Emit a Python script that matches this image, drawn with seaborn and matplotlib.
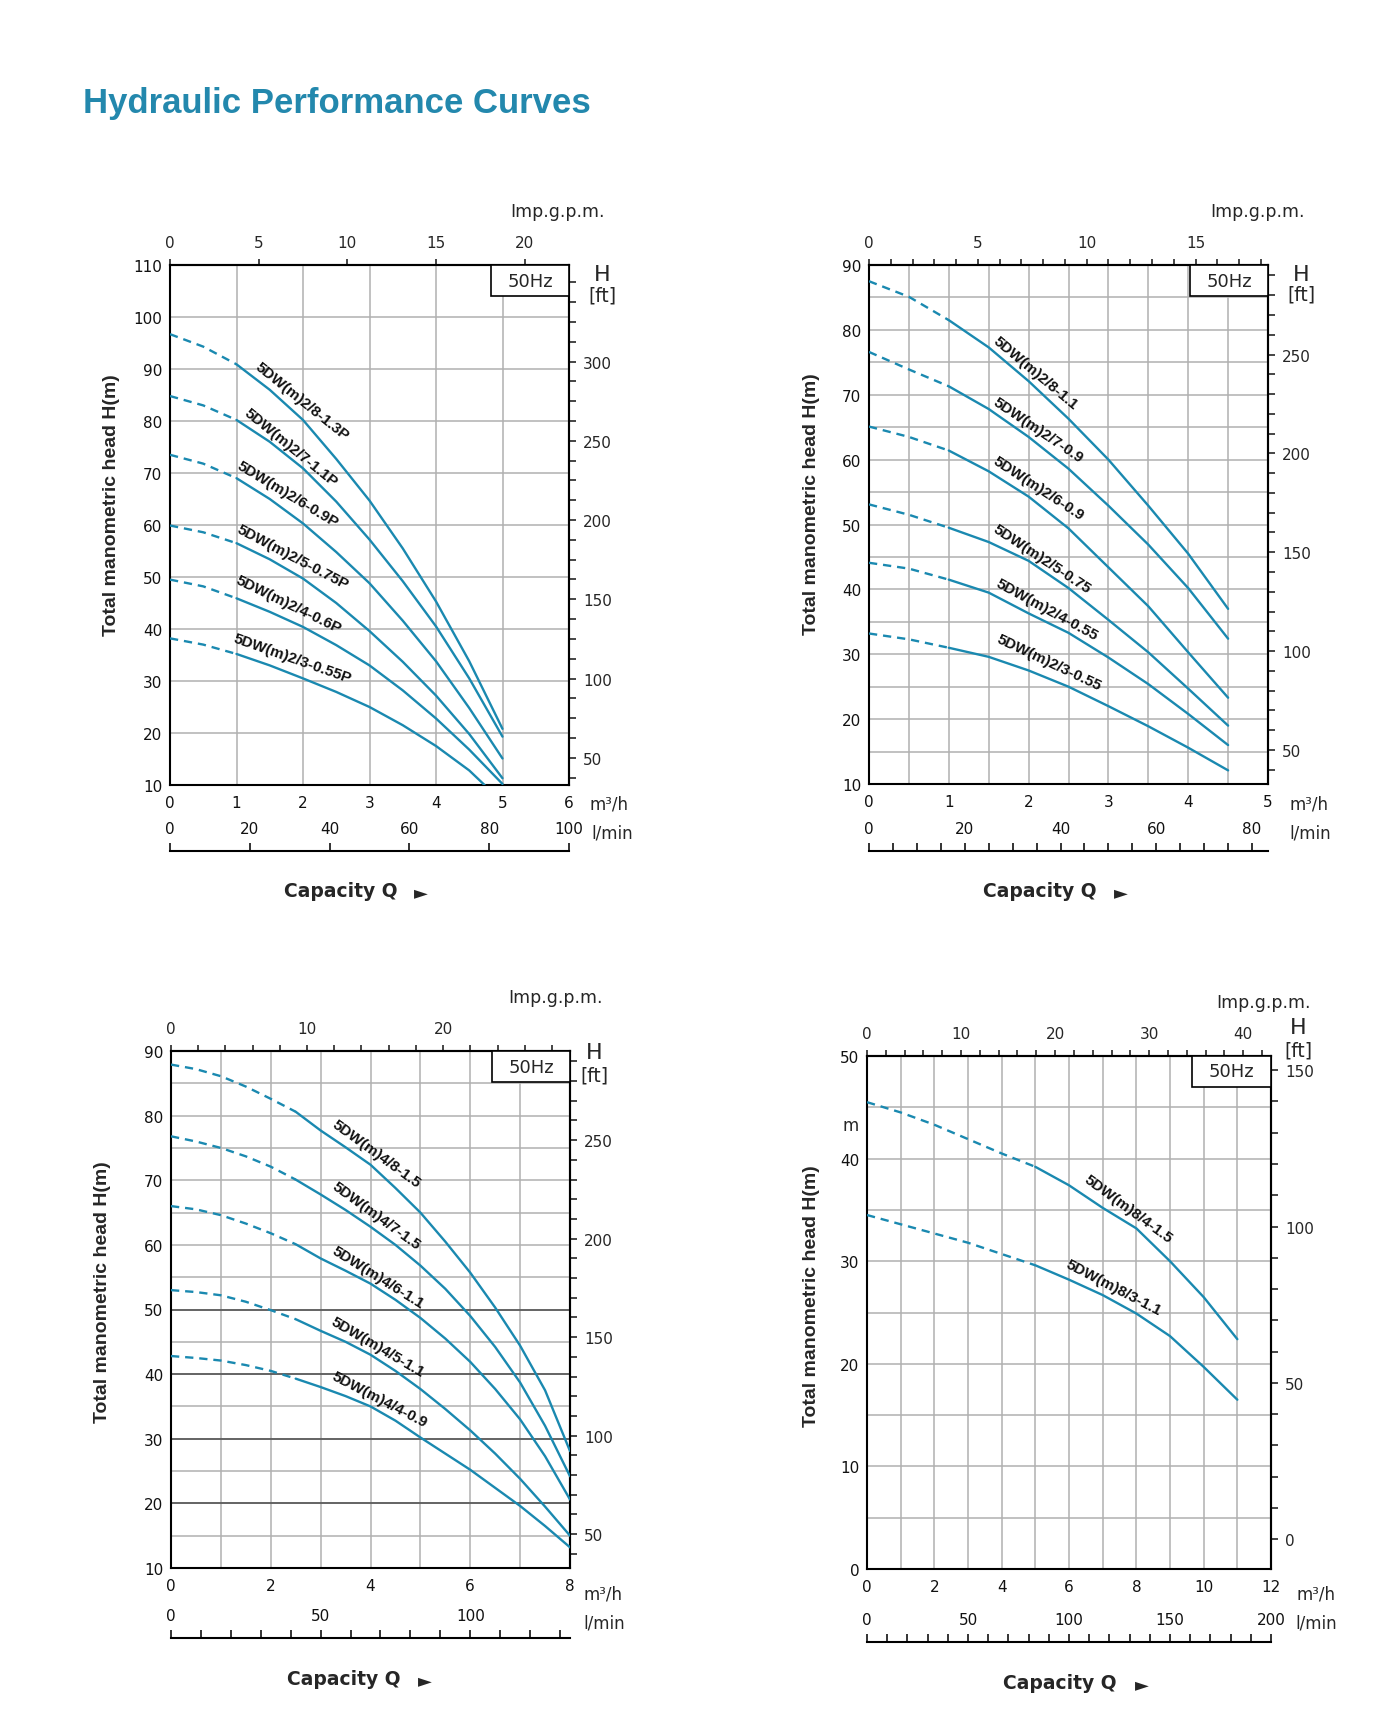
import numpy as np
import pandas as pd
import matplotlib.pyplot as plt
import seaborn as sns
from matplotlib.ticker import MultipleLocator
from matplotlib.patches import Rectangle

sns.set_theme(style="white")
plt.rcParams['font.family'] = ['DejaVu Sans']

W, H = 1400, 1731
CURVE = '#1a89b0'
GRID = '#b0b0b0'
TITLE_COLOR = '#2388ad'
LABEL_FONT = ['Liberation Sans', 'DejaVu Sans']

# ---- chart 1 : 5DW(m)2 ... P  (Q in m3/h, H in m)
Q1 = [0, 0.5, 1, 1.5, 2, 2.5, 3, 3.5, 4, 4.5, 5]
Q1_short = [0, 0.5, 1, 1.5, 2, 2.5, 3, 3.5, 4, 4.5, 4.73]
H1_8 = [96.7, 94.3, 90.9, 86.0, 80.2, 72.7, 64.7, 55.5, 45.3, 33.8, 20.8]
H1_7 = [84.8, 83.0, 80.2, 76.0, 70.9, 64.5, 57.2, 49.2, 40.5, 30.5, 19.3]
H1_6 = [73.5, 71.8, 69.0, 65.0, 60.3, 54.8, 48.8, 41.6, 33.8, 24.8, 15.1]
H1_5 = [59.9, 58.6, 56.5, 53.4, 49.7, 45.0, 39.6, 33.7, 27.2, 19.8, 11.3]
H1_4 = [49.5, 48.2, 45.9, 43.3, 40.4, 36.9, 33.0, 28.2, 22.8, 16.8, 10.2]
H1_3 = [38.2, 37.0, 35.2, 33.0, 30.5, 27.9, 25.0, 21.5, 17.5, 12.8, 10.0]
NAMES1 = ['5DW(m)2/8-1.3P', '5DW(m)2/7-1.1P', '5DW(m)2/6-0.9P',
          '5DW(m)2/5-0.75P', '5DW(m)2/4-0.6P', '5DW(m)2/3-0.55P']

# ---- chart 2 : 5DW(m)2 ...
Q2 = [0, 0.5, 1, 1.5, 2, 2.5, 3, 3.5, 4, 4.5]
H2_8 = [87.5, 85.1, 81.5, 77.3, 72.1, 66.3, 60.0, 52.9, 45.5, 37.0]
H2_7 = [76.6, 73.9, 71.3, 67.8, 63.5, 58.6, 52.9, 46.9, 40.2, 32.4]
H2_6 = [65.1, 63.5, 61.4, 58.2, 54.3, 49.4, 43.4, 37.4, 30.3, 23.3]
H2_5 = [53.1, 51.5, 49.5, 47.3, 44.4, 40.2, 35.3, 30.3, 24.7, 19.0]
H2_4 = [44.1, 43.2, 41.5, 39.5, 36.3, 33.3, 29.5, 25.4, 20.8, 16.0]
H2_3 = [33.2, 32.3, 31.0, 29.6, 27.5, 25.0, 22.0, 18.9, 15.6, 12.1]
NAMES2 = ['5DW(m)2/8-1.1', '5DW(m)2/7-0.9', '5DW(m)2/6-0.9',
          '5DW(m)2/5-0.75', '5DW(m)2/4-0.55', '5DW(m)2/3-0.55']

# ---- chart 3 : 5DW(m)4 ...
Q3 = [0, 0.5, 1, 1.5, 2, 2.5, 3, 3.5, 4, 4.5, 5, 5.5, 6, 6.5, 7, 7.5, 8]
H3_8 = [87.9, 87.2, 86.1, 84.5, 82.6, 80.6, 77.7, 75.1, 72.4, 68.8, 65.0, 60.5, 55.7, 50.3, 44.4, 37.5, 28.1]
H3_7 = [76.8, 76.0, 75.0, 73.7, 72.1, 70.1, 67.8, 65.4, 62.8, 60.0, 56.8, 53.2, 49.0, 44.2, 38.7, 32.0, 24.2]
H3_6 = [66.0, 65.5, 64.6, 63.3, 61.8, 60.1, 57.9, 56.0, 54.0, 51.5, 48.7, 45.5, 41.9, 37.7, 33.0, 27.3, 20.6]
H3_5 = [53.0, 52.7, 52.2, 51.2, 49.9, 48.5, 46.7, 45.0, 43.0, 40.5, 37.7, 34.6, 31.3, 27.7, 23.8, 19.5, 15.0]
H3_4 = [42.8, 42.5, 42.1, 41.4, 40.5, 39.3, 38.0, 36.6, 35.0, 32.8, 30.2, 27.7, 25.2, 22.4, 19.6, 16.5, 13.2]
NAMES3 = ['5DW(m)4/8-1.5', '5DW(m)4/7-1.5', '5DW(m)4/6-1.1',
          '5DW(m)4/5-1.1', '5DW(m)4/4-0.9']

# ---- chart 4 : 5DW(m)8 ...
Q4 = [0, 1, 2, 3, 4, 5, 6, 7, 8, 9, 10, 11]
H4_4 = [45.5, 44.5, 43.3, 41.9, 40.5, 39.2, 37.4, 35.2, 33.2, 30.0, 26.5, 22.4]
H4_3 = [34.5, 33.6, 32.7, 31.8, 30.7, 29.6, 28.2, 26.7, 24.9, 22.7, 19.7, 16.5]
NAMES4 = ['5DW(m)8/4-1.5', '5DW(m)8/3-1.1']

fig = plt.figure(figsize=(14, 17.31), dpi=100)
fig.patch.set_facecolor('white')


def px_rect(x0, y0, x1, y1):
    return [x0 / W, 1 - y1 / H, (x1 - x0) / W, (y1 - y0) / H]


def panel(box, lmin_y, qmax, hlim, curves, label_pos, split,
          xgrid, ygrid, xstep, ystep, gpm_k, gpm_ticks, gpm_minor,
          ft_fn, ft_ticks, ft_minor, lmin_major, lmin_minor):
    x0, y0, x1, y1 = box
    ax = fig.add_axes(px_rect(*box))
    ax.set_xlim(0, qmax)
    ax.set_ylim(*hlim)

    # curves: dashed below the split flow, solid after it
    for (name, q, h), (lx, ly, slope) in zip(curves, label_pos):
        df = pd.DataFrame({'Q': q, 'H': h})
        sns.lineplot(data=df[df.Q <= split], x='Q', y='H', ax=ax, color=CURVE,
                     linewidth=1.7, linestyle=(0, (3.5, 2.5)), sort=False,
                     estimator=None, legend=False, zorder=4)
        sns.lineplot(data=df[df.Q >= split], x='Q', y='H', ax=ax, color=CURVE,
                     linewidth=1.7, sort=False, estimator=None, legend=False, zorder=4)
        # label runs parallel to the local slope (given in data units)
        p = ax.transData.transform([(lx, ly), (lx + 1, ly + slope)])
        rot = np.degrees(np.arctan2(p[1, 1] - p[0, 1], p[1, 0] - p[0, 0]))
        ax.text(lx, ly, name, rotation=rot, rotation_mode='anchor', ha='center',
                va='center', fontsize=11, fontweight='bold', family=LABEL_FONT,
                color='#111111', zorder=6)

    ax.set_xticks(np.arange(0, qmax + 0.01, xstep))
    ax.xaxis.set_minor_locator(MultipleLocator(xgrid))
    ax.set_yticks(np.arange(hlim[0], hlim[1] + 0.01, ystep))
    ax.yaxis.set_minor_locator(MultipleLocator(ygrid))
    ax.grid(True, which='both', color=GRID, linewidth=1.1)
    ax.tick_params(axis='x', which='both', length=0, labelsize=11, pad=7, colors='#111111')
    ax.tick_params(axis='y', which='both', length=0, labelsize=11, pad=5.5, colors='#111111')
    ax.set_xlabel('')
    ax.set_ylabel('')
    for s in ax.spines.values():
        s.set_color('black')
        s.set_linewidth(1.5)
        s.set_visible(True)

    # 50Hz box
    ax.add_patch(Rectangle((0.805, 0.94), 0.195, 0.06, transform=ax.transAxes,
                           facecolor='white', edgecolor='black', linewidth=1.2, zorder=7))
    ax.text(0.9025, 0.97, '50Hz', transform=ax.transAxes, ha='center', va='center',
            fontsize=13, zorder=8)

    # Imp.g.p.m. on top
    top = ax.secondary_xaxis('top', functions=(lambda q: q * gpm_k, lambda g: g / gpm_k))
    top.set_xticks(gpm_ticks)
    if gpm_minor:
        top.xaxis.set_minor_locator(MultipleLocator(gpm_minor))
    top.tick_params(which='both', direction='out', length=4, width=1.2, labelsize=11, pad=7)
    top.spines['top'].set_linewidth(1.5)

    # head in feet on the right
    right = ax.secondary_yaxis('right', functions=ft_fn)
    right.set_yticks(ft_ticks)
    right.yaxis.set_minor_locator(MultipleLocator(ft_minor))
    right.tick_params(which='both', direction='out', length=5, width=1.2, labelsize=11, pad=5)
    right.spines['right'].set_linewidth(1.5)

    # l/min scale below
    lx = fig.add_axes([x0 / W, 1 - lmin_y / H, (x1 - x0) / W, 11 / H])
    lx.set_xlim(0, qmax * 1000 / 60)
    lx.set_ylim(0, 1)
    lx.patch.set_alpha(0)
    for s in ['top', 'left', 'right']:
        lx.spines[s].set_visible(False)
    lx.spines['bottom'].set_color('black')
    lx.spines['bottom'].set_linewidth(1.5)
    lx.set_yticks([])
    lx.xaxis.set_major_locator(MultipleLocator(lmin_major))
    if lmin_minor:
        lx.xaxis.set_minor_locator(MultipleLocator(lmin_minor))
    lx.tick_params(axis='x', which='both', direction='in', length=6, width=1.2,
                   bottom=True, top=False, labelbottom=False, labeltop=True,
                   labelsize=11, pad=3, colors='#111111')
    lx.grid(False)
    return ax


def decorate(ylab_xy, imp_xy, h_xy, ft_y, m3h_xy, lmin_xy, cap_xy, arrow_x):
    fig.text(ylab_xy[0] / W, 1 - ylab_xy[1] / H, 'Total manometric head H(m)', rotation=90,
             ha='center', va='center', fontsize=14, fontweight='bold', family=LABEL_FONT)
    fig.text(imp_xy[0] / W, 1 - imp_xy[1] / H, 'Imp.g.p.m.', ha='center', va='center', fontsize=12.5)
    fig.text(h_xy[0] / W, 1 - h_xy[1] / H, 'H', ha='center', va='center', fontsize=16)
    fig.text(h_xy[0] / W, 1 - ft_y / H, '[ft]', ha='center', va='center', fontsize=13.5)
    fig.text(m3h_xy[0] / W, 1 - m3h_xy[1] / H, 'm³/h', ha='center', va='center', fontsize=12)
    fig.text(lmin_xy[0] / W, 1 - lmin_xy[1] / H, 'l/min', ha='center', va='center', fontsize=12)
    fig.text(cap_xy[0] / W, 1 - cap_xy[1] / H, 'Capacity Q', ha='center', va='center',
             fontsize=13.5, fontweight='bold')
    fig.text(arrow_x / W, 1 - (cap_xy[1] + 1) / H, '►', ha='center', va='center', fontsize=13)


M2FT = 3.2808

# chart 1
panel((170, 266, 569, 786), 852, 6, (10, 110),
      list(zip(NAMES1, [Q1] * 5 + [Q1_short], [H1_8, H1_7, H1_6, H1_5, H1_4, H1_3])),
      [(1.98, 83.9, -10.3), (1.82, 75.0, -10.4), (1.76, 66.0, -7.7),
       (1.84, 54.0, -6.7), (1.78, 44.8, -6.2), (1.84, 34.5, -4.5)],
      1.0, 1, 10, 1, 10, 3.75, [0, 5, 10, 15, 20], None,
      (lambda m: m * M2FT, lambda f: f / M2FT), [50, 100, 150, 200, 250, 300], 12.5, 20, None)
decorate((112, 505), (557, 212), (602, 275), 296, (609, 805), (612, 834), (341, 892), 421)

# chart 2
panel((869, 266, 1268, 785), 852, 5, (10, 90),
      list(zip(NAMES2, [Q2] * 6, [H2_8, H2_7, H2_6, H2_5, H2_4, H2_3])),
      [(2.09, 73.5, -10.3), (2.12, 64.6, -8.3), (2.12, 55.6, -8.0),
       (2.17, 44.8, -8.1), (2.23, 37.0, -6.7), (2.26, 28.8, -5.8)],
      1.0, 0.5, 5, 1, 10, 3.666, [0, 5, 10, 15], 1,
      (lambda m: m * M2FT, lambda f: f / M2FT), [50, 100, 150, 200, 250], 10, 20, 5)
decorate((812, 504), (1257, 212), (1301, 275), 295, (1309, 805), (1310, 834), (1040, 892), 1121)

# chart 3
ax3 = panel((171, 1052, 570, 1569), 1639, 8, (10, 90),
            list(zip(NAMES3, [Q3] * 5, [H3_8, H3_7, H3_6, H3_5, H3_4])),
            [(4.11, 74.2, -5.6), (4.11, 64.6, -5.6), (4.14, 55.0, -4.8),
             (4.15, 44.3, -4.5), (4.19, 36.1, -4.0)],
            2.5, 1, 5, 2, 10, 3.666, [0, 10, 20], 2,
            (lambda m: m * M2FT, lambda f: f / M2FT), [50, 100, 150, 200, 250], 10, 50, 10)
for yy in [20, 30, 40, 50]:
    ax3.axhline(yy, color='#555555', linewidth=1.2, zorder=2)
decorate((103, 1292), (555, 998), (594, 1053), 1076, (603, 1595), (604, 1624), (344, 1680), 425)

# chart 4
panel((867, 1057, 1271, 1570), 1643, 12, (0, 50),
      list(zip(NAMES4, [Q4] * 2, [H4_4, H4_3])),
      [(7.77, 35.1, -2.4), (7.32, 27.5, -1.7)],
      5.0, 1, 5, 2, 10, 3.58, [0, 10, 20, 30, 40], 2,
      (lambda m: (m - 2.9) * M2FT, lambda f: f / M2FT + 2.9), [0, 50, 100, 150], 10, 50, 10)
decorate((812, 1296), (1264, 1003), (1298, 1028), 1051, (1316, 1595), (1316, 1624), (1060, 1684), 1142)
fig.text(851 / W, 1 - 1126 / H, 'm', ha='center', va='center', fontsize=12)

fig.text(83 / W, 1 - 103 / H, 'Hydraulic Performance Curves', ha='left', va='center',
         fontsize=25, fontweight='bold', family=LABEL_FONT, color=TITLE_COLOR)

fig.savefig('out.png', dpi=100, facecolor='white')
